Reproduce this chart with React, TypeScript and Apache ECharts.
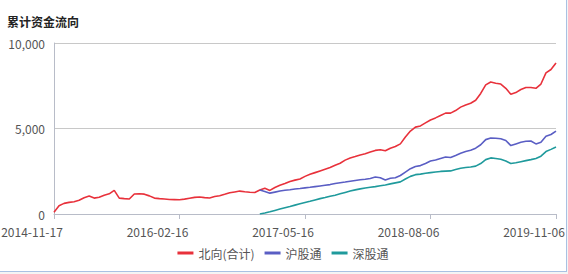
import React, { useEffect, useRef } from "react";
import * as echarts from "echarts";

const dates: string[] = [
  "2014-11-17","2014-12-05","2014-12-23","2015-01-12","2015-01-29","2015-02-16","2015-03-06","2015-03-24","2015-04-13","2015-04-30",
  "2015-05-19","2015-06-05","2015-06-24","2015-07-13","2015-07-30","2015-08-17","2015-09-04","2015-09-23","2015-10-13","2015-10-30",
  "2015-11-18","2015-12-07","2015-12-24","2016-01-12","2016-01-29","2016-02-16","2016-03-04","2016-03-22","2016-04-11","2016-04-28",
  "2016-05-17","2016-06-03","2016-06-22","2016-07-11","2016-07-28","2016-08-15","2016-09-02","2016-09-21","2016-10-12","2016-10-28",
  "2016-11-16","2016-12-05","2016-12-22","2017-01-10","2017-01-26","2017-02-14","2017-03-03","2017-03-22","2017-04-10","2017-04-27",
  "2017-05-16","2017-06-02","2017-06-20","2017-07-07","2017-07-25","2017-08-11","2017-08-29","2017-09-15","2017-10-09","2017-10-24",
  "2017-11-10","2017-11-28","2017-12-15","2018-01-03","2018-01-19","2018-02-06","2018-02-26","2018-03-15","2018-04-02","2018-04-19",
  "2018-05-08","2018-05-25","2018-06-12","2018-06-29","2018-07-18","2018-08-06","2018-08-23","2018-09-11","2018-09-28","2018-10-19",
  "2018-11-06","2018-11-23","2018-12-12","2018-12-31","2019-01-17","2019-02-04","2019-02-22","2019-03-12","2019-03-29","2019-04-17",
  "2019-05-07","2019-05-24","2019-06-12","2019-07-02","2019-07-19","2019-08-06","2019-08-23","2019-09-11","2019-09-30","2019-10-18",
  "2019-11-06",
];

const northbound: number[] = [
  100, 480, 620, 680, 720, 800, 950, 1050, 930, 980,
  1100, 1180, 1380, 930, 900, 880, 1170, 1180, 1160, 1060,
  930, 900, 880, 850, 840, 830, 870, 920, 970, 990,
  960, 940, 1020, 1070, 1150, 1240, 1290, 1340, 1300, 1270,
  1260, 1400, 1500, 1380, 1550, 1680, 1780, 1900, 1980, 2050,
  2200, 2320, 2420, 2520, 2620, 2720, 2850, 2970, 3150, 3280,
  3360, 3450, 3520, 3620, 3720, 3760, 3700, 3850, 3950, 4100,
  4500, 4850, 5080, 5150, 5330, 5500, 5620, 5760, 5900, 5900,
  6050, 6250, 6380, 6480, 6650, 7050, 7550, 7720, 7650, 7600,
  7350, 7000, 7100, 7280, 7400, 7400, 7350, 7600, 8250, 8450,
  8830,
];

const shanghaiStart = 41;
const shanghai: number[] = [
  1400, 1320, 1220, 1280, 1340, 1390, 1420, 1460, 1490,
  1530, 1560, 1600, 1640, 1680, 1720, 1780, 1830, 1870, 1920,
  1960, 2000, 2030, 2080, 2160, 2120, 1990, 2090, 2120, 2250,
  2450, 2650, 2780, 2830, 2950, 3100, 3160, 3250, 3330, 3300,
  3420, 3550, 3650, 3730, 3850, 4050, 4350, 4440, 4430, 4400,
  4300, 4000, 4100, 4200, 4250, 4270, 4100, 4200, 4550, 4650,
  4850,
];

const shenzhen: number[] = [
  0, 60, 130, 210, 290, 370, 440, 520, 600,
  670, 740, 820, 900, 960, 1040, 1100, 1180, 1260, 1340,
  1410, 1470, 1520, 1560, 1600, 1650, 1700, 1760, 1820, 1880,
  2050, 2200, 2300, 2330, 2380, 2420, 2460, 2490, 2510, 2520,
  2600, 2680, 2720, 2750, 2800, 2950, 3180, 3280, 3250, 3200,
  3100, 2950, 3000, 3060, 3120, 3180, 3250, 3380, 3650, 3780,
  3920,
];

const seriesNames = ["北向(合计)", "沪股通", "深股通"];
const colors = ["#e8313b", "#5a5ec4", "#1f9a9c"];
const titleText = "累计资金流向";

function pad(arr: number[], start: number): (number | null)[] {
  const out: (number | null)[] = [];
  for (let i = 0; i < start; i++) out.push(null);
  return out.concat(arr);
}

const FONT = "'Noto Sans CJK SC', 'Microsoft YaHei', sans-serif";

export default function App() {
  const ref = useRef<HTMLDivElement>(null);
  useEffect(() => {
    if (!ref.current) return;
    const chart = echarts.init(ref.current, null, { renderer: "svg" });
    chart.setOption({
      animation: false,
      backgroundColor: "#ffffff",
      textStyle: { fontFamily: FONT },
      title: {
        text: titleText,
        left: 2,
        top: 10,
        textStyle: { fontSize: 12, fontWeight: "bold", color: "#222", fontFamily: FONT },
      },
      legend: {
        data: seriesNames,
        bottom: 7,
        left: "center",
        itemWidth: 16,
        itemHeight: 3,
        itemGap: 10,
        icon: "rect",
        textStyle: { fontSize: 12, color: "#555", fontFamily: FONT },
      },
      grid: { left: 54, right: 10, top: 43, bottom: 57, outerBoundsMode: "none", containLabel: false },
      xAxis: {
        type: "category",
        data: dates,
        boundaryGap: false,
        axisLine: { lineStyle: { color: "#b8bcc8" } },
        axisTick: { alignWithLabel: true, interval: 24, lineStyle: { color: "#b8bcc8" } },
        axisLabel: {
          interval: 24,
          color: "#555",
          fontSize: 12,
          margin: 11,
          fontFamily: FONT,
          showMaxLabel: true,
          showMinLabel: true,
          hideOverlap: false,
          align: "center",
          padding: [0, 44, 0, 0],
        },
        splitLine: { show: false },
      },
      yAxis: {
        type: "value",
        min: 0,
        max: 10000,
        interval: 5000,
        axisLine: { show: true, lineStyle: { color: "#b8bcc8" } },
        axisTick: { show: false },
        axisLabel: {
          color: "#555",
          fontSize: 12,
          margin: 9,
          fontFamily: FONT,
          formatter: (v: number) => v.toLocaleString("en-US"),
        },
        splitLine: { lineStyle: { color: "#c8c8c8" } },
      },
      series: [
        {
          name: seriesNames[0],
          type: "line",
          data: northbound,
          showSymbol: false,
          symbol: "none",
          lineStyle: { width: 1.6, color: colors[0] },
          itemStyle: { color: colors[0] },
        },
        {
          name: seriesNames[1],
          type: "line",
          data: pad(shanghai, shanghaiStart),
          showSymbol: false,
          symbol: "none",
          lineStyle: { width: 1.6, color: colors[1] },
          itemStyle: { color: colors[1] },
        },
        {
          name: seriesNames[2],
          type: "line",
          data: pad(shenzhen, shanghaiStart),
          showSymbol: false,
          symbol: "none",
          lineStyle: { width: 1.6, color: colors[2] },
          itemStyle: { color: colors[2] },
        },
      ],
    });
    return () => chart.dispose();
  }, []);
  return (
    <div
      style={{
        position: "fixed",
        left: 0,
        top: 0,
        width: 568,
        height: 274,
        background: "#f4f4f4",
      }}
    >
      <div
        style={{
          position: "absolute",
          left: 0,
          top: 0,
          width: 566,
          height: 271,
          borderRight: "1px solid #a9c1e3",
          borderBottom: "1px solid #a9c1e3",
          background: "#fff",
        }}
      >
        <div ref={ref} style={{ width: 566, height: 271 }} />
      </div>
    </div>
  );
}
